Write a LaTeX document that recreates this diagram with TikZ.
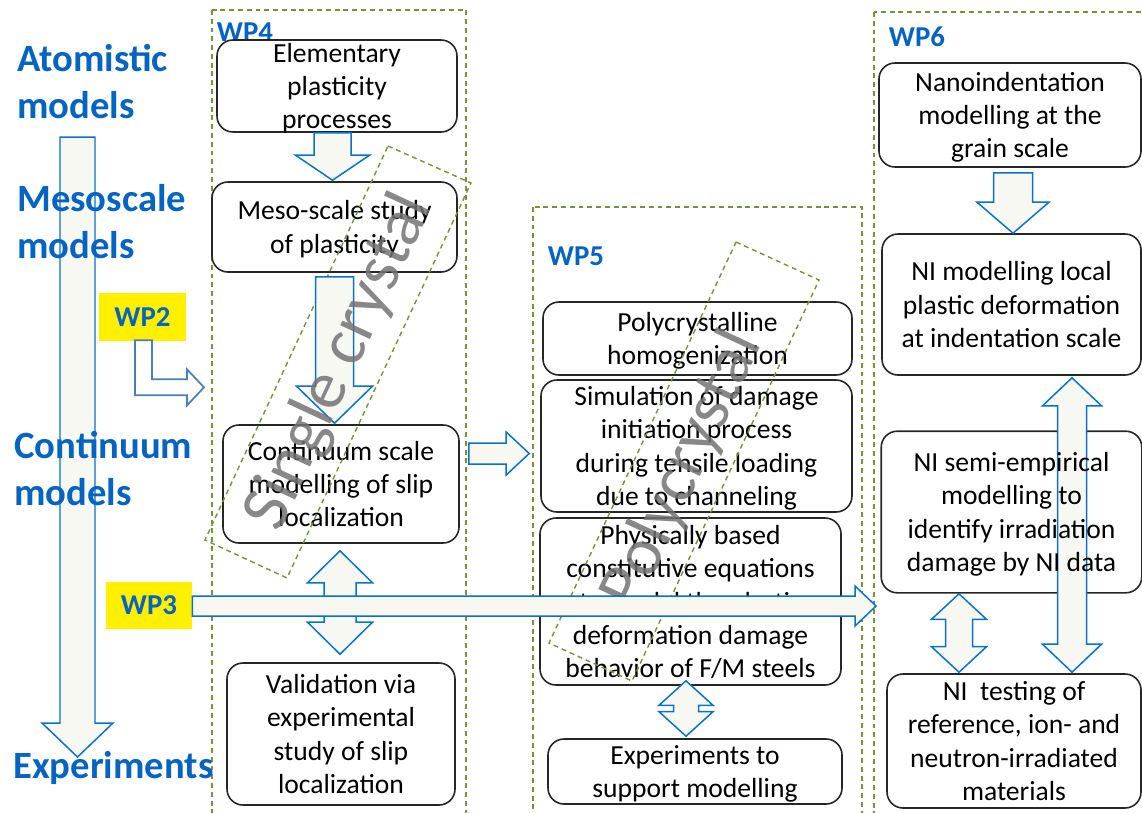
\documentclass[tikz,border=0pt]{standalone}
\usepackage{fontspec}
\setmainfont{Carlito}
\usetikzlibrary{calc}
\definecolor{txtblue}{HTML}{0563C1}
\definecolor{arrblue}{HTML}{0A72C6}
\definecolor{arrfill}{HTML}{F8F8F3}
\definecolor{olivedash}{HTML}{76923C}
\definecolor{wpyellow}{HTML}{FFF000}
\definecolor{bentblue}{HTML}{4A7EBB}
\definecolor{boxline}{HTML}{262626}
\pgfdeclarelayer{back}
\pgfsetlayers{back,main}
\newcommand\pxu{0.02cm}
\newcommand\boxfont{\fontsize{15.7pt}{18.9pt}\selectfont}
\newcommand\labfont{\fontsize{22pt}{26.2pt}\selectfont\bfseries}
\newcommand\wpfont{\fontsize{16.4pt}{19pt}\selectfont\bfseries}
\newcommand\bigfont{\fontsize{39pt}{45pt}\selectfont}
% #1 tail, #2 tip, #3 shaft half width, #4 head half width, #5 head length (px)
\newcommand\blockarrow[5]{%
  \coordinate (ba-b) at ($(#2)!#5*0.02cm!(#1)$);
  \draw[blockarr] ($(#1)!#3*0.02cm!90:(#2)$) -- ($(ba-b)!#3*0.02cm!90:(#2)$) -- ($(ba-b)!#4*0.02cm!90:(#2)$) -- (#2) -- ($(ba-b)!#4*0.02cm!-90:(#2)$) -- ($(ba-b)!#3*0.02cm!-90:(#2)$) -- ($(#1)!#3*0.02cm!-90:(#2)$) -- cycle;}
% #1 tip 1, #2 tip 2, #3 shaft half width, #4 head half width, #5 head length (px)
\newcommand\dblarrow[5]{%
  \coordinate (da-a) at ($(#1)!#5*0.02cm!(#2)$);
  \coordinate (da-b) at ($(#2)!#5*0.02cm!(#1)$);
  \draw[blockarr] (#1) -- ($(da-a)!#4*0.02cm!90:(#2)$) -- ($(da-a)!#3*0.02cm!90:(#2)$) -- ($(da-b)!#3*0.02cm!-90:(#1)$) -- ($(da-b)!#4*0.02cm!-90:(#1)$) -- (#2) -- ($(da-b)!#4*0.02cm!90:(#1)$) -- ($(da-b)!#3*0.02cm!90:(#1)$) -- ($(da-a)!#3*0.02cm!-90:(#2)$) -- ($(da-a)!#4*0.02cm!-90:(#2)$) -- cycle;}
\begin{document}
\begin{tikzpicture}[x=0.02cm,y=-0.02cm,
  pbox/.style={draw=boxline, line width=0.9pt, rounded corners=0.32cm, align=center, inner sep=0pt, font=\boxfont, text depth=0pt},
  sz/.style 2 args={minimum width=#1*\pxu, minimum height=#2*\pxu},
  wpframe/.style={draw=olivedash, line width=0.8pt, dash pattern=on 2.8pt off 2.2pt},
  lab/.style={text=txtblue, font=\labfont, align=left, inner sep=0pt, anchor=base west},
  wplab/.style={text=txtblue, font=\wpfont, inner sep=0pt},
  ybox/.style={fill=wpyellow, text=txtblue, font=\wpfont, inner sep=0pt},
  blockarr/.style={draw=arrblue, fill=arrfill, line width=0.85pt, line join=miter},
  bentarr/.style={draw=bentblue, fill=white, line width=1pt, line join=miter},
  water/.style={text=black!55, opacity=0.85, font=\bigfont, inner sep=0pt},
]
\useasboundingbox (0,0) rectangle (1142,812);
\clip (0,0) rectangle (1142,812);

% work package frames
\draw[wpframe] (212,10) rectangle (466,830);
\draw[wpframe] (533,207) rectangle (862,830);
\draw[wpframe] (874,12) rectangle (1160,830);

% scale arrow on the left
\coordinate (sTop) at (77.5,137);
\coordinate (sBot) at (77.5,757);
\blockarrow{sTop}{sBot}{17.5}{35.5}{34}

% scale labels (anchor at the baseline of the last line)
\node[lab] (atom) at (17,118) {Atomistic\\models};
\node[lab] (meso) at (17,258) {Mesoscale\\models};
\node[lab] (cont) at (14,505) {Continuum\\models};
\node[lab] (expt) at (13,778) {Experiments};

% WP labels
\node[wplab] (wp4) at (245,32) {WP4};
\node[wplab] (wp5) at (576,256) {WP5};
\node[wplab] (wp6) at (917,37) {WP6};
\node[ybox, sz={87}{48}] (wp2) at (142.5,317) {WP2};
\node[ybox, sz={86}{47}] (wp3) at (149,605.5) {WP3};

% WP4 boxes
\node[pbox, sz={240}{92}] (e1) at (337,86) {Elementary\\plasticity\\processes};
\node[pbox, sz={245}{90}] (e2) at (334.5,227) {Meso-scale study\\of plasticity};
\node[pbox, sz={236}{118}] (e3) at (341,484) {Continuum scale\\modelling of slip\\localization};
\node[pbox, sz={228}{142}] (e4) at (341,734) {Validation via\\experimental\\study of slip\\localization};

% WP5 boxes
\node[pbox, sz={309}{73}, text depth=-6pt] (p1) at (697.5,338.5) {Polycrystalline\\homogenization};
\node[pbox, sz={311}{132}] (p2) at (696.5,446) {Simulation of damage\\initiation process\\during tensile loading\\due to channeling};
\node[pbox, sz={301}{167}] (p3) at (690.5,601.5) {Physically based\\constitutive equations\\to model the plastic\\deformation damage\\behavior of F/M steels};
\node[pbox, sz={294}{65}] (p4) at (695,771.5) {Experiments to\\support modelling};

% WP6 boxes
\node[pbox, sz={262}{104}] (n1) at (1010,115) {Nanoindentation\\modelling at the\\grain scale};
\node[pbox, sz={259}{141}, text depth=-2pt] (n2) at (1011.5,304.5) {NI modelling local\\plastic deformation\\at indentation scale};
\node[pbox, draw=none, sz={259}{160}] (n3) at (1011.5,512) {NI semi-empirical\\modelling to\\identify irradiation\\damage by NI data};
\node[pbox, sz={254}{134}, text depth=-3pt] (n4) at (1014,741) {NI\ \ testing of\\reference, ion- and\\neutron-irradiated\\materials};

% single crystal / polycrystal markers
\draw[wpframe] (388,146) -- (471,183) -- (287,578) -- (205,540) -- cycle;
\draw[wpframe] (736,242) -- (819,280) -- (632,681) -- (549,643) -- cycle;

% WP2 bent arrow
\draw[bentarr, shift={(wp2.south)}] (-7.5,-1) -- (-7.5,54) -- (44.5,54) -- (44.5,64) -- (61.5,46) -- (44.5,28) -- (44.5,38) -- (9.5,38) -- (9.5,-1) -- cycle;

% block arrows
\coordinate (a1t) at ($(e1.south)+(-4.5,0)$);
\coordinate (a1h) at ($(e2.north)+(-2,-1)$);
\blockarrow{a1t}{a1h}{18.5}{37}{25}
\coordinate (a2t) at ($(e2.south)+(0,4)$);
\coordinate (a2h) at ($(e3.north)+(-6.5,-1)$);
\blockarrow{a2t}{a2h}{19}{38}{37}
\coordinate (a3a) at ($(e3.south)+(-1,7)$);
\coordinate (a3b) at ($(e4.north)+(-1,-8)$);
\dblarrow{a3a}{a3b}{16}{32.5}{32}
\coordinate (a4t) at ($(e3.east)+(9,-30.5)$);
\coordinate (a4h) at ($(p2.west)+(-11,7.5)$);
\blockarrow{a4t}{a4h}{10.5}{21.5}{23}
\coordinate (a5a) at ($(p3.south)+(-4.5,-5)$);
\coordinate (a5b) at ($(p4.north)+(-9,-2)$);
\dblarrow{a5a}{a5b}{12.5}{27}{24.5}
\coordinate (a6t) at ($(n1.south)+(3,5)$);
\coordinate (a6h) at ($(n2.north)+(1.5,0)$);
\blockarrow{a6t}{a6h}{19.5}{36}{31}
\coordinate (a8a) at ($(n3.south)+(-52.5,1)$);
\coordinate (a8b) at ($(n4.north)+(-55,-1)$);
\dblarrow{a8a}{a8b}{13.5}{27.5}{25.5}

\begin{pgfonlayer}{back}
\draw[draw=boxline, line width=0.9pt, rounded corners=0.32cm] (n3.north west) rectangle (n3.south east);
\coordinate (a7a) at ($(n2.south)+(60.5,2)$);
\coordinate (a7b) at ($(n4.north)+(58,-1)$);
\dblarrow{a7a}{a7b}{14.5}{29.5}{28}
\end{pgfonlayer}

% watermark texts
\node[water, rotate=65] (sc) at (340,362) {Single crystal};
\node[water, rotate=65] (pc) at (683,470) {Polycrystal};

% WP3 arrow across
\coordinate (wp3t) at ($(wp3.east)+(0,0.5)$);
\coordinate (wp3end) at (876,606);
\blockarrow{wp3t}{wp3end}{10}{20}{21}
\end{tikzpicture}
\end{document}
